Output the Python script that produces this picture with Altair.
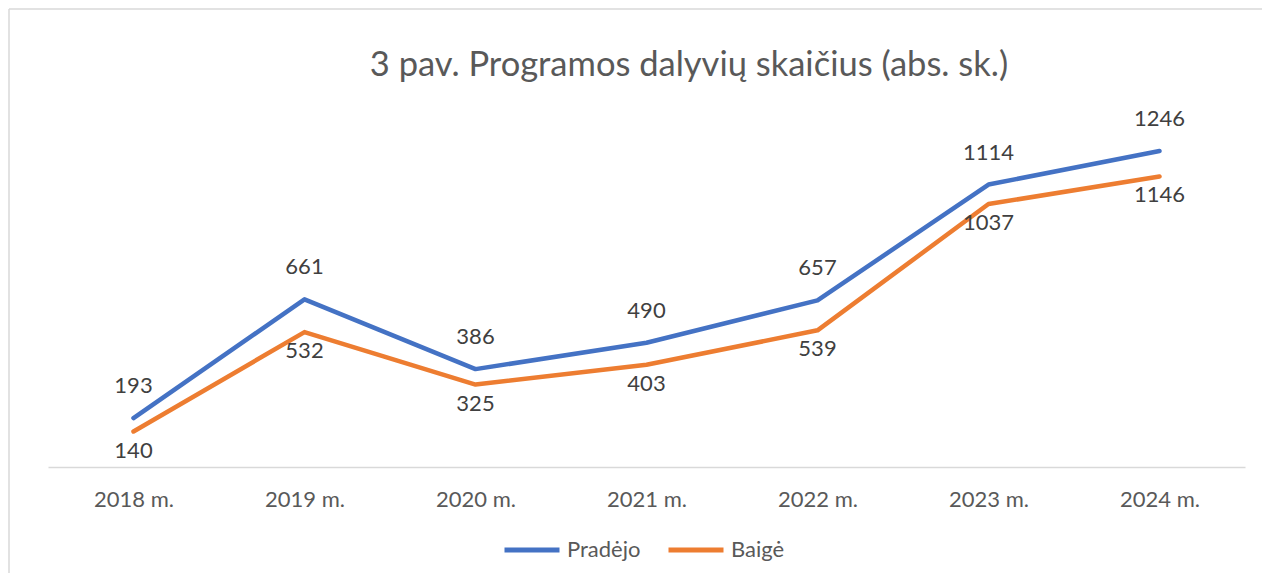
import altair as alt
import pandas as pd

title_text = "3 pav. Programos dalyvių skaičius (abs. sk.)"
years = ["2018 m.", "2019 m.", "2020 m.", "2021 m.", "2022 m.", "2023 m.", "2024 m."]
pradejo = [193, 661, 386, 490, 657, 1114, 1246]
baige = [140, 532, 325, 403, 539, 1037, 1146]
series_names = ["Pradėjo", "Baigė"]
colors = ["#4472C4", "#ED7D31"]

rows = []
for y, a, b in zip(years, pradejo, baige):
    rows.append({"year": y, "series": series_names[0], "value": a})
    rows.append({"year": y, "series": series_names[1], "value": b})
df = pd.DataFrame(rows)

FONT = "Lato"

x = alt.X("year:N", sort=years, title=None,
          scale=alt.Scale(type="point", padding=0.5),
          axis=alt.Axis(labelAngle=0, labelFontSize=22, labelColor="#595959",
                        labelFont=FONT, ticks=False, domainColor="#D9D9D9",
                        domainWidth=1.3, labelPadding=22, grid=False))
y = alt.Y("value:Q", title=None, scale=alt.Scale(domain=[0, 1400], nice=False),
          axis=None)

base = alt.Chart(df)

lines = base.mark_line(strokeWidth=4.5, strokeCap="round", strokeJoin="round").encode(
    x=x, y=y,
    color=alt.Color("series:N",
                    scale=alt.Scale(domain=series_names, range=colors),
                    sort=series_names,
                    legend=alt.Legend(title=None, orient="none", direction="horizontal",
                                      legendX=454, legendY=408,
                                      symbolType="stroke", symbolSize=3025,
                                      symbolStrokeWidth=5, labelFontSize=22,
                                      labelFont=FONT, labelColor="#595959",
                                      labelOffset=5, columnPadding=17, padding=0)),
)

lab_top = base.transform_filter(alt.datum.series == series_names[0]).mark_text(
    dy=-32, fontSize=22, font=FONT, color="#404040", baseline="middle"
).encode(x=x, y=y, text="value:Q")

lab_bot = base.transform_filter(alt.datum.series == series_names[1]).mark_text(
    dy=19, fontSize=22, font=FONT, color="#404040", baseline="middle"
).encode(x=x, y=y, text="value:Q")

single = alt.Data(values=[{"t": title_text}])

frame_top = alt.Chart(single).mark_rule(stroke="#D9D9D9", strokeWidth=1.5).encode(
    x=alt.value(-39), x2=alt.value(1400), y=alt.value(-103))
frame_left = alt.Chart(single).mark_rule(stroke="#D9D9D9", strokeWidth=1.5).encode(
    x=alt.value(-39), y=alt.value(-103), y2=alt.value(700))

title = alt.Chart(single).mark_text(
    fontSize=34.5, font=FONT, color="#595959", align="center", baseline="alphabetic"
).encode(x=alt.value(641), y=alt.value(-36), text="t:N")

chart = alt.layer(frame_top, frame_left, title, lines, lab_top, lab_bot).properties(
    width=1197, height=355,
    autosize=alt.AutoSizeParams(type="none"),
    padding={"left": 40, "top": 104, "right": 17, "bottom": 106},
).configure_view(stroke=None)

chart.save("out.html", embed_options={"renderer": "svg", "actions": False})
